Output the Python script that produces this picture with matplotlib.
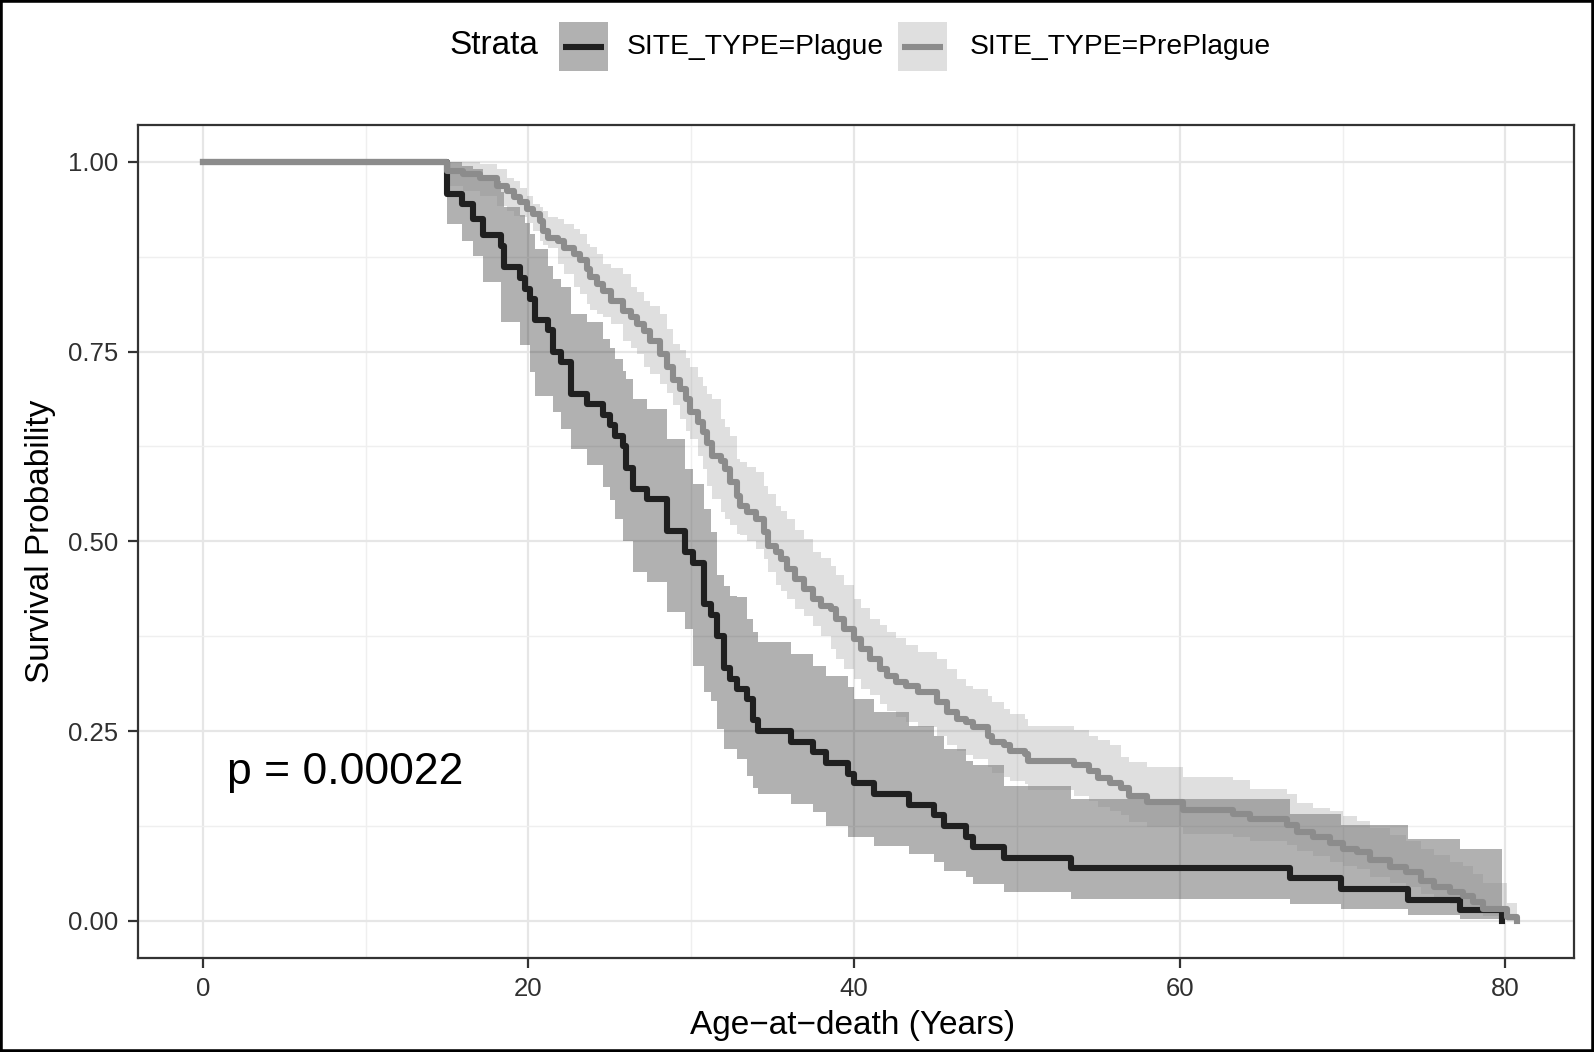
"""Curvas de sobrevivencia (Kaplan-Meier) por tipo de sitio."""
import matplotlib
matplotlib.use("Agg")
import matplotlib.pyplot as plt
from matplotlib.patches import Rectangle
from matplotlib.lines import Line2D
from matplotlib.ticker import MultipleLocator

plt.rcParams["font.family"] = ["Liberation Sans", "DejaVu Sans"]

# ---- SITE_TYPE=Plague (tempo, sobrevivencia, IC superior, IC inferior)
plague_t = [0, 15.0, 15.9, 16.6, 17.2, 18.3, 18.5, 19.5, 19.8, 20.1, 20.4, 21.2, 21.5,
            22.0, 22.6, 23.6, 24.6, 25.0, 25.3, 25.8, 26.0, 26.4, 27.3, 28.5, 29.6,
            30.1, 30.8, 31.2, 31.6, 32.0, 32.4, 32.8, 33.4, 33.8, 34.1, 36.1, 37.5,
            38.3, 39.6, 40.0, 41.2, 43.4, 44.9, 45.5, 46.9, 47.3, 49.2, 53.3, 66.8,
            69.9, 74.0, 77.2, 79.8]
plague_s = [1.0, 0.958, 0.944, 0.924, 0.903, 0.889, 0.861, 0.847, 0.833, 0.819, 0.792,
            0.778, 0.750, 0.736, 0.694, 0.681, 0.667, 0.653, 0.639, 0.625, 0.597, 0.569,
            0.556, 0.514, 0.486, 0.472, 0.417, 0.403, 0.375, 0.333, 0.319, 0.306, 0.292,
            0.264, 0.250, 0.236, 0.222, 0.208, 0.194, 0.181, 0.167, 0.153, 0.139, 0.125,
            0.111, 0.097, 0.083, 0.069, 0.056, 0.042, 0.028, 0.014, 0.0]
plague_up = [1.0, 1.0, 0.995, 0.99, 0.975, 0.96, 0.94, 0.93, 0.92, 0.905, 0.885, 0.863,
             0.846, 0.835, 0.80, 0.789, 0.767, 0.755, 0.74, 0.725, 0.714, 0.687, 0.674,
             0.635, 0.595, 0.575, 0.543, 0.512, 0.455, 0.441, 0.428, 0.427, 0.398, 0.38,
             0.367, 0.352, 0.336, 0.323, 0.308, 0.292, 0.275, 0.257, 0.244, 0.227, 0.211,
             0.205, 0.178, 0.161, 0.141, 0.126, 0.108, 0.095, 0.0]
plague_lo = [1.0, 0.918, 0.896, 0.876, 0.841, 0.789, 0.789, 0.758, 0.758, 0.723, 0.692,
             0.692, 0.670, 0.648, 0.622, 0.60, 0.571, 0.555, 0.529, 0.50, 0.50, 0.46,
             0.446, 0.407, 0.385, 0.336, 0.302, 0.29, 0.253, 0.227, 0.227, 0.213, 0.191,
             0.175, 0.167, 0.154, 0.144, 0.125, 0.111, 0.111, 0.099, 0.088, 0.077, 0.066,
             0.058, 0.049, 0.038, 0.029, 0.022, 0.015, 0.008, 0.003, 0.0]

# ---- SITE_TYPE=PrePlague
preplague_t = [0, 15.0, 16.0, 17.0, 18.1, 18.7, 19.1, 19.5, 19.9, 20.3, 20.7, 20.9, 21.2,
               21.8, 22.2, 22.8, 23.2, 23.6, 23.8, 24.2, 24.6, 25.1, 25.8, 26.3, 26.7,
               27.1, 27.5, 28.1, 28.5, 28.9, 29.3, 29.7, 29.9, 30.4, 30.7, 31.0, 31.3,
               31.8, 32.1, 32.4, 32.8, 33.0, 33.4, 34.0, 34.5, 34.7, 35.2, 35.5, 35.9,
               36.4, 36.9, 37.5, 38.0, 38.6, 38.9, 39.4, 40.0, 40.4, 41.0, 41.6, 42.0,
               42.6, 43.2, 43.9, 45.1, 45.7, 46.3, 46.9, 47.3, 48.2, 48.5, 49.2, 49.6,
               50.5, 50.7, 53.5, 54.4, 55.0, 55.7, 56.4, 56.9, 58.0, 60.2, 63.3, 64.3,
               66.6, 67.2, 68.2, 69.2, 70.0, 70.9, 71.7, 72.9, 73.9, 74.8, 75.6, 76.6,
               77.4, 78.0, 78.6, 80.1, 80.7]
preplague_s = [1.0, 0.988, 0.984, 0.979, 0.968, 0.962, 0.953, 0.947, 0.938, 0.931, 0.922,
               0.909, 0.900, 0.896, 0.887, 0.878, 0.870, 0.859, 0.848, 0.839, 0.830, 0.817,
               0.804, 0.795, 0.786, 0.777, 0.764, 0.747, 0.729, 0.712, 0.701, 0.688, 0.670,
               0.657, 0.644, 0.630, 0.613, 0.606, 0.595, 0.578, 0.560, 0.547, 0.538, 0.529,
               0.512, 0.494, 0.486, 0.477, 0.464, 0.450, 0.437, 0.424, 0.415, 0.411, 0.398,
               0.385, 0.371, 0.358, 0.345, 0.332, 0.323, 0.314, 0.310, 0.301, 0.288, 0.275,
               0.266, 0.262, 0.255, 0.244, 0.235, 0.231, 0.224, 0.220, 0.211, 0.205, 0.197,
               0.188, 0.182, 0.175, 0.165, 0.157, 0.146, 0.141, 0.134, 0.126, 0.117, 0.110,
               0.102, 0.095, 0.091, 0.080, 0.071, 0.064, 0.053, 0.045, 0.038, 0.033, 0.025,
               0.016, 0.005, 0.0]
preplague_up = [1.0, 1.0, 1.0, 0.997, 0.99, 0.979, 0.975, 0.966, 0.955, 0.945, 0.94, 0.935,
                0.927, 0.924, 0.918, 0.912, 0.905, 0.892, 0.888, 0.878, 0.865, 0.860, 0.852,
                0.835, 0.828, 0.817, 0.810, 0.80, 0.78, 0.76, 0.752, 0.742, 0.73, 0.716,
                0.705, 0.694, 0.687, 0.661, 0.65, 0.639, 0.609, 0.605, 0.598, 0.591, 0.573,
                0.562, 0.547, 0.54, 0.529, 0.515, 0.503, 0.486, 0.478, 0.468, 0.455, 0.442,
                0.424, 0.412, 0.398, 0.39, 0.38, 0.372, 0.363, 0.354, 0.345, 0.332, 0.319,
                0.31, 0.305, 0.296, 0.288, 0.279, 0.273, 0.266, 0.257, 0.251, 0.244, 0.238,
                0.231, 0.216, 0.209, 0.203, 0.189, 0.185, 0.174, 0.167, 0.155, 0.148, 0.145,
                0.138, 0.132, 0.122, 0.113, 0.105, 0.095, 0.087, 0.078, 0.072, 0.062, 0.050,
                0.023, 0.0]
preplague_lo = [1.0, 0.968, 0.962, 0.955, 0.942, 0.935, 0.928, 0.927, 0.920, 0.909, 0.896,
                0.890, 0.887, 0.865, 0.852, 0.835, 0.826, 0.813, 0.805, 0.800, 0.795, 0.786,
                0.764, 0.755, 0.747, 0.729, 0.720, 0.707, 0.695, 0.680, 0.661, 0.645, 0.635,
                0.613, 0.595, 0.573, 0.556, 0.538, 0.530, 0.521, 0.510, 0.508, 0.500, 0.490,
                0.477, 0.460, 0.442, 0.435, 0.424, 0.411, 0.402, 0.389, 0.375, 0.358, 0.345,
                0.332, 0.319, 0.306, 0.297, 0.285, 0.277, 0.268, 0.262, 0.255, 0.243, 0.232,
                0.224, 0.219, 0.213, 0.203, 0.195, 0.190, 0.184, 0.180, 0.172, 0.165, 0.158,
                0.150, 0.145, 0.139, 0.130, 0.123, 0.114, 0.110, 0.105, 0.100, 0.092, 0.086,
                0.078, 0.072, 0.068, 0.058, 0.050, 0.044, 0.035, 0.028, 0.022, 0.018, 0.012,
                0.006, 0.0, 0.0]

x_ticks = [0, 20, 40, 60, 80]
y_ticks = [0.0, 0.25, 0.50, 0.75, 1.0]
y_tick_labels = ["0.00", "0.25", "0.50", "0.75", "1.00"]
legend_labels = ["SITE_TYPE=Plague", "SITE_TYPE=PrePlague"]
p_text = "p = 0.00022"

line_colors = ["#202020", "#8c8c8c"]
band_alphas = [0.35, 0.28]
line_w = 4.4


def main() -> None:
    fig = plt.figure(figsize=(15.94, 10.52), dpi=100)
    ax = fig.add_axes([0.0863, 0.0897, 0.9010, 0.7915])

    ax.fill_between(plague_t, plague_lo, plague_up, step="post",
                    color=line_colors[0], alpha=band_alphas[0], lw=0, zorder=2)
    ax.fill_between(preplague_t, preplague_lo, preplague_up, step="post",
                    color=line_colors[1], alpha=band_alphas[1], lw=0, zorder=2.1)
    ax.step(plague_t, plague_s, where="post", color=line_colors[0], lw=line_w, zorder=3)
    ax.step(preplague_t, preplague_s, where="post", color=line_colors[1], lw=line_w,
            zorder=3.1)

    ax.text(1.5, 0.18, p_text, fontsize=32, ha="left", va="baseline", color="black")

    ax.set_xlim(-4.0, 84.2)
    ax.set_ylim(-0.0485, 1.0485)
    ax.set_xticks(x_ticks)
    ax.set_yticks(y_ticks)
    ax.set_yticklabels(y_tick_labels)
    ax.xaxis.set_minor_locator(MultipleLocator(10))
    ax.yaxis.set_minor_locator(MultipleLocator(0.125))
    ax.grid(True, which="major", color="#e6e6e6", lw=1.6, zorder=0)
    ax.grid(True, which="minor", color="#efefef", lw=1.0, zorder=0)
    ax.set_axisbelow(True)
    ax.tick_params(which="major", length=7, width=1.6, color="#333333",
                   labelsize=18.5, labelcolor="#303030", pad=7)
    ax.tick_params(which="minor", length=0)
    for sp in ax.spines.values():
        sp.set_color("#333333")
        sp.set_linewidth(1.6)

    fig.text(0.5351, 0.0171, "Age\u2212at\u2212death (Years)", fontsize=24,
             ha="center", va="baseline")
    fig.text(0.0255, 0.4855, "Survival Probability", fontsize=24, rotation=90,
             ha="center", va="center")

    # legenda no topo, estilo ggplot
    fig.text(0.2817, 0.9487, "Strata", fontsize=24, ha="left", va="baseline")
    key_x = [559, 898]
    text_x = [627, 969.6]
    W, H = 1594, 1052
    for i in range(2):
        fig.add_artist(Rectangle((key_x[i] / W, 1 - 71 / H), 49 / W, 49 / H,
                                 transform=fig.transFigure, facecolor=line_colors[i],
                                 alpha=band_alphas[i], lw=0))
        fig.add_artist(Line2D([(key_x[i] + 4) / W, (key_x[i] + 45) / W],
                              [1 - 46.5 / H, 1 - 46.5 / H], transform=fig.transFigure,
                              color=line_colors[i], lw=line_w, solid_capstyle="butt"))
        fig.text(text_x[i] / W, 0.9487, legend_labels[i], fontsize=20.3,
                 ha="left", va="baseline")

    fig.add_artist(Rectangle((0, 0), 1, 1, transform=fig.transFigure, fill=False,
                             edgecolor="black", lw=4))

    fig.savefig("out.png", dpi=100)


if __name__ == "__main__":
    main()
